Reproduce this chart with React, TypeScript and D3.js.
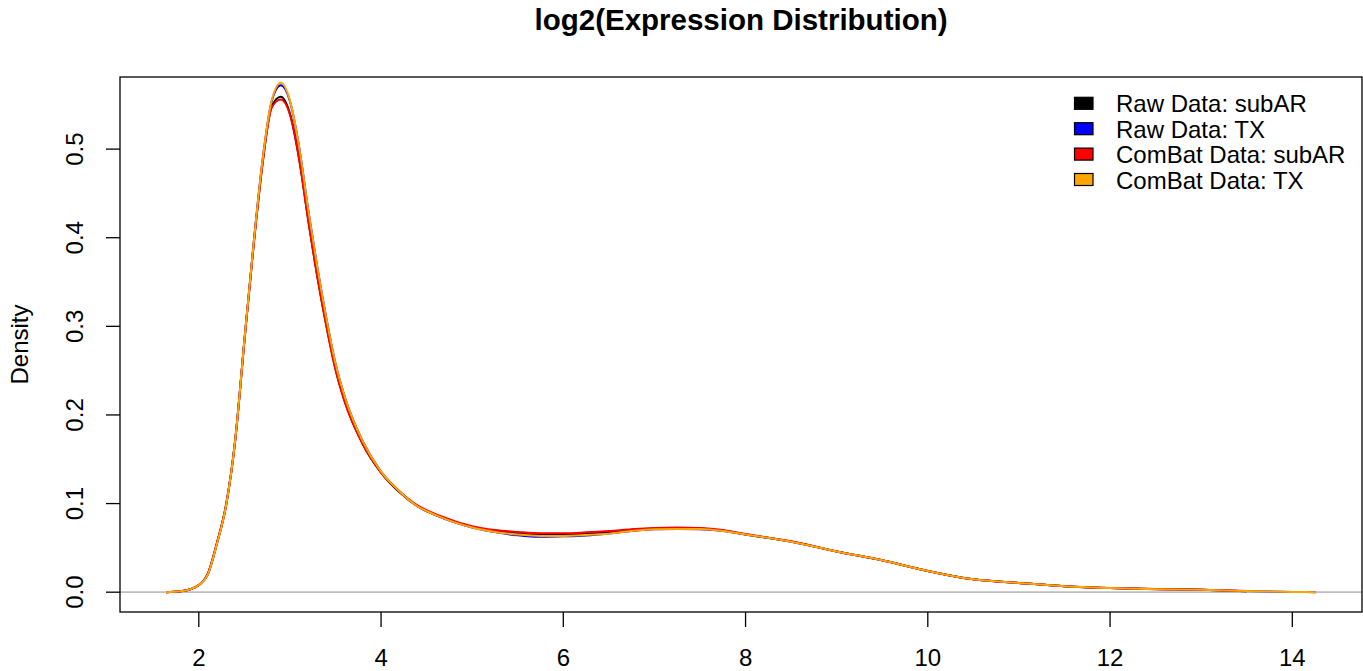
import * as d3 from "d3";
import React, { useEffect, useRef } from "react";

// density grid (log2 expression)
const xGrid = [
  1.64, 1.8, 1.9, 2.0, 2.1, 2.2, 2.3, 2.4, 2.5, 2.6, 2.7, 2.8, 2.9, 3.0, 3.1,
  3.2, 3.3, 3.4, 3.5, 3.6, 3.8, 4.0, 4.2, 4.4, 4.6, 4.8, 5.0, 5.25, 5.5, 5.75,
  6.0, 6.25, 6.5, 6.75, 7.0, 7.25, 7.5, 7.75, 8.0, 8.5, 9.0, 9.5, 10.0, 10.5,
  11.0, 11.5, 12.0, 12.5, 13.0, 13.5, 14.0, 14.26,
];

const rawSubAR = [
  0, 0.001, 0.003, 0.008, 0.021, 0.056, 0.099, 0.172, 0.283, 0.39, 0.484,
  0.548, 0.559, 0.54, 0.49, 0.421, 0.357, 0.301, 0.252, 0.216, 0.167, 0.135,
  0.113, 0.097, 0.087, 0.0795, 0.0735, 0.0692, 0.0665, 0.0648, 0.065, 0.066,
  0.068, 0.0705, 0.072, 0.0725, 0.072, 0.0695, 0.0652, 0.0572, 0.046, 0.036,
  0.024, 0.0145, 0.0105, 0.0068, 0.0047, 0.0035, 0.0028, 0.001, null, null,
];

const rawTX = [
  0, 0.001, 0.003, 0.008, 0.02, 0.055, 0.098, 0.172, 0.284, 0.392, 0.488,
  0.554, 0.572, 0.554, 0.503, 0.432, 0.367, 0.309, 0.258, 0.221, 0.17, 0.136,
  0.114, 0.097, 0.087, 0.079, 0.073, 0.0678, 0.0642, 0.0625, 0.063, 0.064,
  0.0662, 0.069, 0.071, 0.0714, 0.0711, 0.069, 0.065, 0.057, 0.046, 0.036,
  0.024, 0.0145, 0.0105, 0.0068, 0.0047, 0.0033, 0.0027, 0.0012, 0.0003, 0,
];

const combatSubAR = [
  0, 0.001, 0.003, 0.008, 0.021, 0.056, 0.099, 0.172, 0.283, 0.39, 0.484,
  0.547, 0.556, 0.539, 0.489, 0.42, 0.356, 0.3, 0.251, 0.215, 0.167, 0.135,
  0.114, 0.098, 0.088, 0.0805, 0.0745, 0.0702, 0.068, 0.0665, 0.0665, 0.0675,
  0.069, 0.071, 0.0725, 0.073, 0.0725, 0.0702, 0.0656, 0.0574, 0.046, 0.036,
  0.024, 0.0145, 0.0105, 0.0068, 0.0047, 0.0036, 0.0028, 0.001, null, null,
];

const combatTX = [
  0, 0.001, 0.003, 0.008, 0.02, 0.055, 0.098, 0.172, 0.284, 0.392, 0.488,
  0.555, 0.575, 0.555, 0.503, 0.432, 0.367, 0.309, 0.258, 0.221, 0.17, 0.136,
  0.114, 0.097, 0.087, 0.079, 0.073, 0.068, 0.065, 0.0635, 0.0635, 0.0645,
  0.066, 0.069, 0.071, 0.0714, 0.0712, 0.069, 0.065, 0.057, 0.046, 0.036,
  0.024, 0.0145, 0.0105, 0.0068, 0.0047, 0.0033, 0.0027, 0.0012, 0.0003, 0,
];

const seriesNames = [
  "Raw Data: subAR",
  "Raw Data: TX",
  "ComBat Data: subAR",
  "ComBat Data: TX",
];
const seriesColors = ["black", "blue", "red", "orange"];
const seriesValues = [rawSubAR, rawTX, combatSubAR, combatTX];

const xTicks = [2, 4, 6, 8, 10, 12, 14];
const yTicks = [0, 0.1, 0.2, 0.3, 0.4, 0.5];

const FONT = "'Liberation Sans', Arial, Helvetica, sans-serif";

const App = () => {
  const svgRef = useRef<SVGSVGElement>(null);

  useEffect(() => {
    const width = 1363;
    const height = 671;
    const box = { left: 120, right: 1362, top: 77, bottom: 612 };

    const svg = d3.select(svgRef.current);
    svg.selectAll("*").remove();
    svg.attr("width", width).attr("height", height);

    // R-style 4% padding around data range
    const xExt = d3.extent(xGrid) as [number, number];
    const xPad = (xExt[1] - xExt[0]) * 0.04;
    const x = d3
      .scaleLinear()
      .domain([xExt[0] - xPad, xExt[1] + xPad])
      .range([box.left, box.right]);

    const yMax = d3.max(rawSubAR as number[]) as number;
    const y = d3
      .scaleLinear()
      .domain([-0.04 * yMax, yMax * 1.04])
      .range([box.bottom, box.top]);

    // title
    svg
      .append("text")
      .attr("x", (box.left + box.right) / 2)
      .attr("y", 29.5)
      .attr("text-anchor", "middle")
      .attr("font-family", FONT)
      .attr("font-weight", "bold")
      .attr("font-size", 29.5)
      .text("log2(Expression Distribution)");

    // zero line
    svg
      .append("line")
      .attr("x1", box.left)
      .attr("x2", box.right)
      .attr("y1", y(0))
      .attr("y2", y(0))
      .attr("stroke", "#bebebe")
      .attr("stroke-width", 1.8);

    // density lines
    const line = d3
      .line<[number, number | null]>()
      .defined((d) => d[1] !== null)
      .x((d) => x(d[0]))
      .y((d) => y(d[1] as number))
      .curve(d3.curveMonotoneX);

    seriesValues.forEach((vals, i) => {
      const pts = xGrid.map((xv, j) => [xv, vals[j]] as [number, number | null]);
      svg
        .append("path")
        .attr("d", line(pts))
        .attr("fill", "none")
        .attr("stroke", seriesColors[i])
        .attr("stroke-width", 2);
    });

    // box
    svg
      .append("rect")
      .attr("x", box.left)
      .attr("y", box.top)
      .attr("width", box.right - box.left)
      .attr("height", box.bottom - box.top)
      .attr("fill", "none")
      .attr("stroke", "#000")
      .attr("stroke-width", 1.3);

    // x axis
    const xAxis = svg.append("g");
    xTicks.forEach((t) => {
      xAxis
        .append("line")
        .attr("x1", x(t))
        .attr("x2", x(t))
        .attr("y1", box.bottom)
        .attr("y2", box.bottom + 15)
        .attr("stroke", "#000")
        .attr("stroke-width", 1.3);
      xAxis
        .append("text")
        .attr("x", x(t))
        .attr("y", 666)
        .attr("text-anchor", "middle")
        .attr("font-family", FONT)
        .attr("font-size", 24)
        .text(t);
    });

    // y axis
    const yAxis = svg.append("g");
    yTicks.forEach((t) => {
      yAxis
        .append("line")
        .attr("x1", box.left - 14)
        .attr("x2", box.left)
        .attr("y1", y(t))
        .attr("y2", y(t))
        .attr("stroke", "#000")
        .attr("stroke-width", 1.3);
      yAxis
        .append("text")
        .attr("transform", `translate(83, ${y(t)}) rotate(-90)`)
        .attr("text-anchor", "middle")
        .attr("font-family", FONT)
        .attr("font-size", 24)
        .text(t.toFixed(1));
    });

    svg
      .append("text")
      .attr("transform", `translate(27.5, ${(box.top + box.bottom) / 2}) rotate(-90)`)
      .attr("text-anchor", "middle")
      .attr("font-family", FONT)
      .attr("font-size", 24)
      .text("Density");

    // legend
    const legend = svg.append("g");
    seriesNames.forEach((name, i) => {
      const cy = 103.3 + i * 25.4;
      legend
        .append("rect")
        .attr("x", 1074.5)
        .attr("y", cy - 6)
        .attr("width", 18.5)
        .attr("height", 12)
        .attr("fill", seriesColors[i])
        .attr("stroke", "#000")
        .attr("stroke-width", 1.2);
      legend
        .append("text")
        .attr("x", 1116)
        .attr("y", cy + 9)
        .attr("font-family", FONT)
        .attr("font-size", 24)
        .text(name);
    });
  });

  return (
    <svg
      ref={svgRef}
      style={{ position: "absolute", left: 0, top: 0, background: "#fff" }}
    />
  );
};

export default App;
